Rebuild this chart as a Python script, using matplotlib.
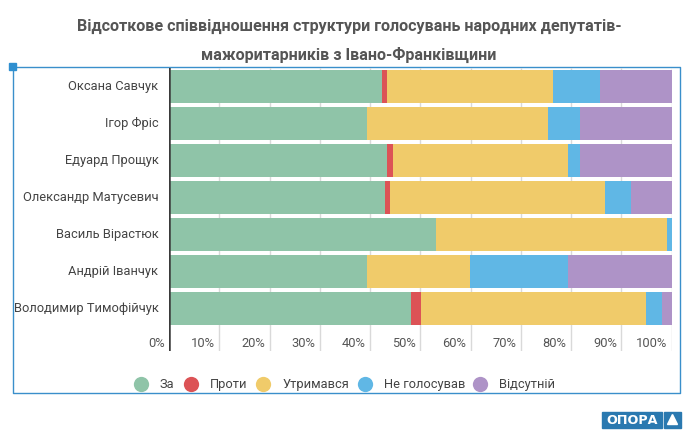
import matplotlib
matplotlib.use("Agg")
import matplotlib.pyplot as plt
import matplotlib.transforms as mtransforms
from matplotlib.patches import Rectangle, Polygon

names = ["Оксана Савчук", "Ігор Фріс", "Едуард Прощук", "Олександр Матусевич",
         "Василь Вірастюк", "Андрій Іванчук", "Володимир Тимофійчук"]
za = [42.4, 39.4, 43.4, 42.9, 53.2, 39.4, 48.1]
proty = [1.0, 0.0, 1.2, 1.1, 0.0, 0.0, 2.1]
utrymavsia = [33.1, 36.1, 34.9, 42.8, 46.0, 20.5, 44.8]
ne_holosuvav = [9.3, 6.2, 2.2, 5.2, 0.8, 19.5, 3.1]
vidsutnii = [14.2, 18.3, 18.3, 8.0, 0.0, 20.6, 1.9]
series_names = ["За", "Проти", "Утримався", "Не голосував", "Відсутній"]
colors = ["#8fc4a8", "#dc5356", "#f0cb6a", "#60b7e5", "#ae93c7"]
ticks = list(range(0, 101, 10))
title = "Відсоткове співвідношення структури голосувань народних депутатів-\nмажоритарників з Івано-Франківщини"

FONT = ["Roboto", "DejaVu Sans"]
plt.rcParams["font.family"] = FONT

W, H = 690, 436
fig = plt.figure(figsize=(W / 100, H / 100), dpi=100)

# overlay in pixel coordinates for decorations
oax = fig.add_axes([0, 0, 1, 1])
oax.set_xlim(0, W)
oax.set_ylim(H, 0)
oax.axis("off")

ax_top, ax_bot, ax_left, ax_right = 68, 351, 169, 671.5
ax = fig.add_axes([ax_left / W, 1 - ax_bot / H, (ax_right - ax_left) / W, (ax_bot - ax_top) / H])
pitch = 37.0
ax.set_ylim(-0.5 + (ax_bot - ax_top) / pitch, -0.5)
ax.set_xlim(0, 100)
for s in ax.spines.values():
    s.set_visible(False)
ax.set_xticks([])
ax.set_yticks([])
ax.patch.set_alpha(0)

for t in ticks[1:]:
    ax.axvline(t, color="#d9d9d9", lw=1, zorder=0)

series = [za, proty, utrymavsia, ne_holosuvav, vidsutnii]
ypos = list(range(len(names)))
left = [0.0] * len(names)
for vals, c in zip(series, colors):
    ax.barh(ypos, vals, left=left, height=0.9, color=c, linewidth=0, zorder=2)
    left = [l + v for l, v in zip(left, vals)]

ax.axvline(0, color="#3a3a3a", lw=1.8, zorder=3)

# category labels
lab_tr = mtransforms.offset_copy(ax.transData, fig=fig, x=-10.5, y=0, units="dots")
for i, n in enumerate(names):
    ax.text(0, i, n, ha="right", va="center", fontsize=9.3, color="#444444", transform=lab_tr)

# tick labels
tick_tr = mtransforms.blended_transform_factory(ax.transData, ax.transAxes)
tick_tr = mtransforms.offset_copy(tick_tr, fig=fig, x=-4.5, y=0, units="dots")
for t in ticks:
    ax.text(t, (ax_bot - 343) / (ax_bot - ax_top), f"{t}%", ha="right", va="center",
            fontsize=9.3, color="#555555", transform=tick_tr)

# title
oax.text(349, 41, title, ha="center", va="center", fontsize=11.6, fontweight="bold",
         color="#555555", linespacing=2.05)

# frame
frame_c = "#3a8fcb"
oax.plot([12.5, 680, 680, 12.5, 12.5], [67, 67, 393, 393, 67], color=frame_c, lw=1)
oax.add_patch(Rectangle((9, 63.5), 7, 7, color="#2f8fd0", zorder=5))

# legend
leg_circ = [141, 191, 263, 365, 480]
leg_txt = [160, 210, 283, 384, 499]
for name, c, cx, tx in zip(series_names, colors, leg_circ, leg_txt):
    oax.plot([cx], [384], marker="o", markersize=11, color=c, markeredgewidth=0)
    oax.text(tx, 384, name, ha="left", va="center", fontsize=9.3, color="#444444")

# logo
logo_c = "#2a79b0"
oax.add_patch(Rectangle((602, 412), 60, 15.5, color=logo_c))
oax.add_patch(Rectangle((664, 412), 17, 15.5, color=logo_c))
oax.text(632, 420, "ОПОРА", ha="center", va="center", fontsize=9.2, fontweight="heavy",
         color="white", family=["DejaVu Sans"])
oax.add_patch(Polygon([[667.5, 424.5], [677.5, 424.5], [672.5, 414.5]], closed=True, color="white"))

fig.savefig("out.png", dpi=100)
